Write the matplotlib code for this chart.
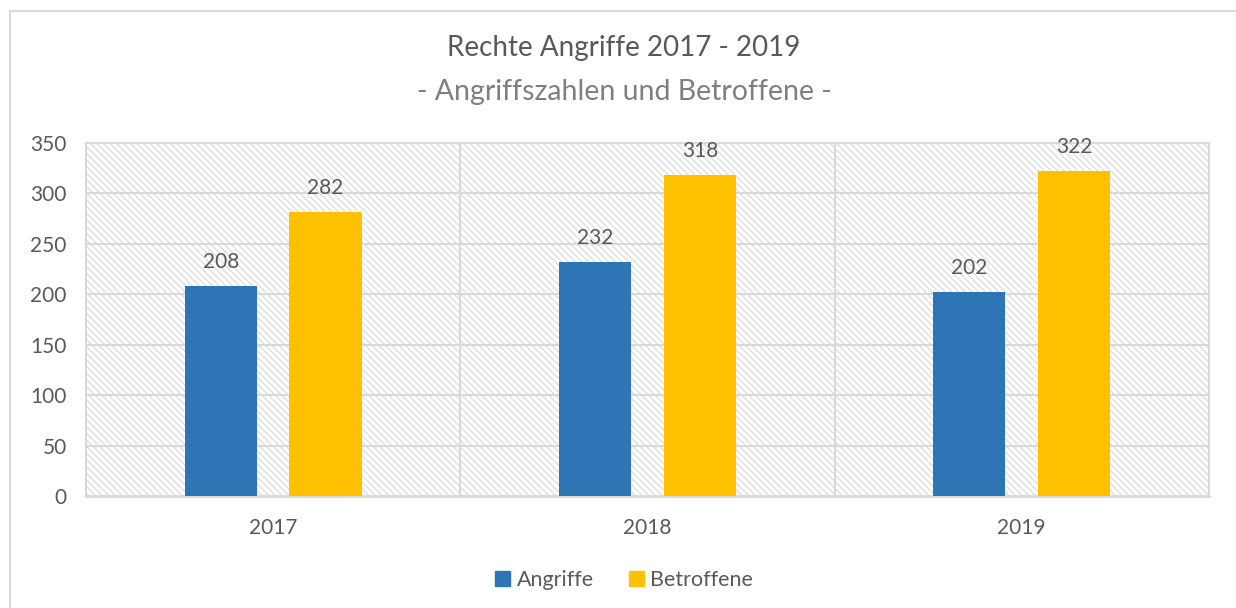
import matplotlib.pyplot as plt
import numpy as np
from matplotlib.patches import Rectangle, Patch

years = ["2017", "2018", "2019"]
angriffe = [208, 232, 202]
betroffene = [282, 318, 322]

blue = "#2E75B6"
yellow = "#FFC000"
grey_txt = "#595959"
grid_c = "#d9d9d9"

plt.rcParams["font.family"] = ["Lato", "DejaVu Sans"]
plt.rcParams["hatch.color"] = "#dcdcdc"
plt.rcParams["hatch.linewidth"] = 0.9

fig = plt.figure(figsize=(12.36, 6.08), dpi=100)
ax = fig.add_axes([0.0696, 0.1842, 0.9084, 0.5806])

# hatched plot area background
ax.add_patch(Rectangle((0, 0), 1, 1, transform=ax.transAxes, facecolor="white",
                       edgecolor="#dcdcdc", hatch="\\" * 5, linewidth=0, zorder=0))

x = np.arange(len(years))
w = 0.193
b1 = ax.bar(x - 0.14, angriffe, w, color=blue, zorder=3)
b2 = ax.bar(x + 0.14, betroffene, w, color=yellow, zorder=3)

for bars, vals in ((b1, angriffe), (b2, betroffene)):
    for r, v in zip(bars, vals):
        ax.annotate(str(v), (r.get_x() + r.get_width() / 2, v), xytext=(0, 10),
                    textcoords="offset points", ha="center", va="bottom",
                    fontsize=15, color=grey_txt)

ax.set_xlim(-0.5, 2.5)
ax.set_ylim(0, 350)
ax.set_yticks(range(0, 351, 50))
ax.set_xticks(x)
ax.set_xticklabels(years)
ax.tick_params(length=0, labelsize=15, labelcolor=grey_txt)
ax.tick_params(axis="x", pad=16)
ax.tick_params(axis="y", pad=14)

for yv in range(50, 351, 50):
    ax.axhline(yv, color=grid_c, lw=1.5, zorder=1)
for xv in (0.5, 1.5):
    ax.axvline(xv, color=grid_c, lw=1.5, zorder=1)
for s in ax.spines.values():
    s.set_color(grid_c)
    s.set_linewidth(1.5)
ax.spines["bottom"].set_linewidth(2)

fig.text(0.505, 0.921, "Rechte Angriffe 2017 - 2019", ha="center", va="center",
         fontsize=20, color=grey_txt)
fig.text(0.505, 0.849, "- Angriffszahlen und Betroffene -", ha="center", va="center",
         fontsize=20.5, color="#7f7f7f")

handles = [Patch(color=blue, label="Angriffe"), Patch(color=yellow, label="Betroffene")]
fig.legend(handles=handles, loc="center", bbox_to_anchor=(0.505, 0.046), ncol=2,
           frameon=False, fontsize=15.5, labelcolor=grey_txt, handlelength=0.7,
           handleheight=0.7, handletextpad=0.3, columnspacing=1.6)

# outer chart border
fig.patches.append(Rectangle((10 / 1236, -0.1), 1.2, 1 - 11 / 608 + 0.1,
                             transform=fig.transFigure, fill=False,
                             edgecolor=grid_c, linewidth=1.5))

fig.savefig("out.png", dpi=100)
